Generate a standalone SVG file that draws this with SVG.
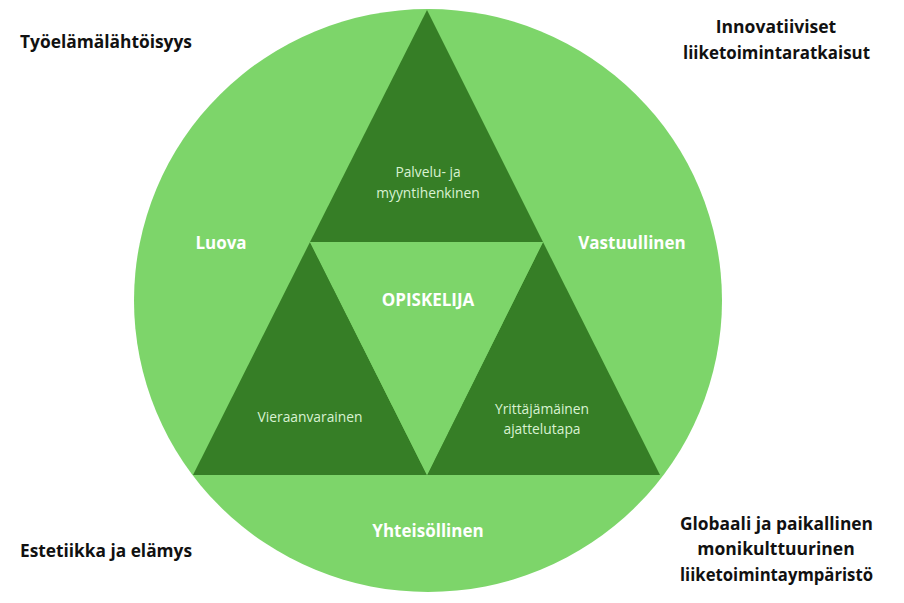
<svg xmlns="http://www.w3.org/2000/svg" width="904" height="603" viewBox="0 0 904 603">
<style>
.light{fill:#7dd56a}
.dark{fill:#367e26}
.outer{font-family:"Open Sans","Liberation Sans",sans-serif;font-weight:bold;font-size:17.5px;fill:#111}
.big{font-family:"Open Sans","Liberation Sans",sans-serif;font-weight:bold;font-size:17px;fill:#ffffff;text-anchor:middle}
.small{font-family:"Open Sans","Liberation Sans",sans-serif;font-size:13.8px;fill:#d9f2d2;text-anchor:middle}
</style>
<rect width="904" height="603" fill="#ffffff"/>
<g id="circle"><ellipse class="light" cx="428" cy="300.5" rx="294" ry="291.5"/></g>
<g id="top-triangle"><polygon class="dark" points="427,10 310,242 543,242"/>
<text class="small" x="428" y="177">Palvelu- ja</text><text class="small" x="428" y="198">myyntihenkinen</text></g>
<g id="left-triangle"><polygon class="dark" points="310,242 193,475 427,475"/>
<text class="small" x="310" y="422">Vieraanvarainen</text></g>
<g id="right-triangle"><polygon class="dark" points="543,242 427,475 660,475"/>
<text class="small" x="542" y="414">Yrittäjämäinen</text><text class="small" x="542" y="434">ajattelutapa</text></g>
<g id="center"><polygon class="light" points="310,242 543,242 427,475"/>
<text class="big" x="428" y="306">OPISKELIJA</text></g>
<g id="luova"><text class="big" x="221" y="249">Luova</text></g>
<g id="vastuullinen"><text class="big" x="632" y="249">Vastuullinen</text></g>
<g id="yhteisollinen"><text class="big" x="428" y="537">Yhteisöllinen</text></g>
<g id="tyoelama"><text class="outer" x="20" y="48" textLength="172" lengthAdjust="spacingAndGlyphs">Työelämälähtöisyys</text></g>
<g id="innovatiiviset"><text class="outer" x="776" y="33" text-anchor="middle">Innovatiiviset</text>
<text class="outer" x="683" y="59" textLength="187" lengthAdjust="spacingAndGlyphs">liiketoimintaratkaisut</text></g>
<g id="estetiikka"><text class="outer" x="20" y="557" textLength="172" lengthAdjust="spacingAndGlyphs">Estetiikka ja elämys</text></g>
<g id="globaali"><text class="outer" x="680" y="530" textLength="193" lengthAdjust="spacingAndGlyphs">Globaali ja paikallinen</text>
<text class="outer" x="776" y="555" text-anchor="middle">monikulttuurinen</text>
<text class="outer" x="680" y="581" textLength="193" lengthAdjust="spacingAndGlyphs">liiketoimintaympäristö</text></g>
<g id="connectors"></g>
</svg>
